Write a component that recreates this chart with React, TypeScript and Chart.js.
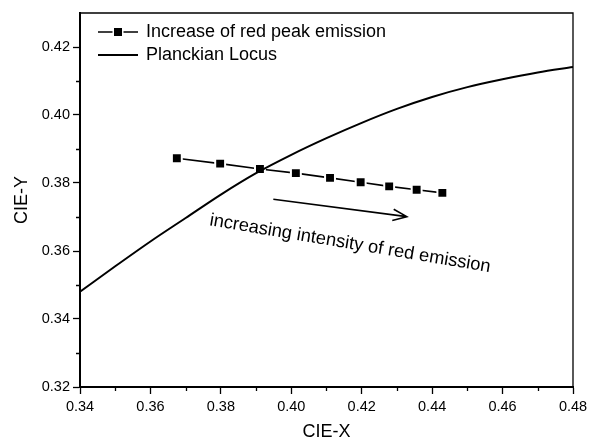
import React, { useEffect, useRef } from "react";
import { Chart, registerables } from "chart.js";

Chart.register(...registerables);

const FONT = "'Liberation Sans', Arial, Helvetica, sans-serif";

// Series: increase of red peak emission (CIE x / y)
const RED_X = [0.3675, 0.3798, 0.3911, 0.4013, 0.411, 0.4197, 0.4278, 0.4356, 0.4429];
const RED_Y = [0.3873, 0.3857, 0.3841, 0.3829, 0.3815, 0.3802, 0.379, 0.378, 0.3771];

// Planckian locus
const LOCUS_X = [0.34, 0.35, 0.36, 0.37, 0.38, 0.39, 0.4, 0.41, 0.42, 0.43, 0.44, 0.45, 0.46, 0.47, 0.48];
const LOCUS_Y = [0.348, 0.3555, 0.3628, 0.3697, 0.3766, 0.3829, 0.3883, 0.3932, 0.3977, 0.4018, 0.4053, 0.4082, 0.4105, 0.4125, 0.4141];

// Axis ticks
const X_TICKS = [0.34, 0.36, 0.38, 0.4, 0.42, 0.44, 0.46, 0.48];
const X_MINOR = [0.35, 0.37, 0.39, 0.41, 0.43, 0.45, 0.47];
const Y_TICKS = [0.32, 0.34, 0.36, 0.38, 0.4, 0.42];
const Y_MINOR = [0.33, 0.35, 0.37, 0.39, 0.41];

const SERIES_LABELS = ["Increase of red peak emission", "Planckian Locus"];
const X_TITLE = "CIE-X";
const Y_TITLE = "CIE-Y";

// Annotation (data coordinates)
const ANNOTATION_TEXT = "increasing intensity of red emission";
const ARROW_FROM = [0.3949, 0.3752];
const ARROW_TO = [0.4328, 0.3701];
const TEXT_AT = [0.3766, 0.3676];
const TEXT_ANGLE_DEG = 9.5;

const decorPlugin = {
  id: "decor",
  afterDraw(chart: any) {
    const { ctx, chartArea: ca, scales } = chart;
    const x = scales.x;
    const y = scales.y;
    ctx.save();
    ctx.strokeStyle = "#000";
    ctx.fillStyle = "#000";

    // top & right frame
    ctx.lineWidth = 1.3;
    ctx.beginPath();
    ctx.moveTo(ca.left, ca.top);
    ctx.lineTo(ca.right, ca.top);
    ctx.lineTo(ca.right, ca.bottom);
    ctx.stroke();

    // minor ticks
    ctx.lineWidth = 1.3;
    ctx.beginPath();
    X_MINOR.forEach((v) => {
      const px = Math.round(x.getPixelForValue(v)) + 0.5;
      ctx.moveTo(px, ca.bottom);
      ctx.lineTo(px, ca.bottom + 4);
    });
    Y_MINOR.forEach((v) => {
      const py = Math.round(y.getPixelForValue(v)) + 0.5;
      ctx.moveTo(ca.left, py);
      ctx.lineTo(ca.left - 4, py);
    });
    ctx.stroke();

    // legend
    const lx0 = ca.left + 18;
    const lx1 = ca.left + 58;
    const rows = [ca.top + 19, ca.top + 42];
    ctx.font = `18px ${FONT}`;
    ctx.textBaseline = "middle";
    ctx.textAlign = "left";
    // row 1
    ctx.lineWidth = 1.6;
    ctx.beginPath();
    ctx.moveTo(lx0, rows[0]);
    ctx.lineTo(lx1, rows[0]);
    ctx.stroke();
    const mx = (lx0 + lx1) / 2;
    ctx.fillStyle = "#fff";
    ctx.fillRect(mx - 5.5, rows[0] - 5.5, 11, 11);
    ctx.fillStyle = "#000";
    ctx.fillRect(mx - 4, rows[0] - 4, 8, 8);
    ctx.fillText(SERIES_LABELS[0], lx1 + 8, rows[0]);
    // row 2
    ctx.lineWidth = 2;
    ctx.beginPath();
    ctx.moveTo(lx0, rows[1]);
    ctx.lineTo(lx1, rows[1]);
    ctx.stroke();
    ctx.fillText(SERIES_LABELS[1], lx1 + 8, rows[1]);

    // arrow
    const ax0 = x.getPixelForValue(ARROW_FROM[0]);
    const ay0 = y.getPixelForValue(ARROW_FROM[1]);
    const ax1 = x.getPixelForValue(ARROW_TO[0]);
    const ay1 = y.getPixelForValue(ARROW_TO[1]);
    ctx.lineWidth = 1.6;
    ctx.beginPath();
    ctx.moveTo(ax0, ay0);
    ctx.lineTo(ax1, ay1);
    const ang = Math.atan2(ay1 - ay0, ax1 - ax0);
    const head = 15;
    const spread = (22 * Math.PI) / 180;
    ctx.moveTo(ax1 - head * Math.cos(ang - spread), ay1 - head * Math.sin(ang - spread));
    ctx.lineTo(ax1, ay1);
    ctx.lineTo(ax1 - head * Math.cos(ang + spread), ay1 - head * Math.sin(ang + spread));
    ctx.stroke();

    // rotated annotation text
    const tx = x.getPixelForValue(TEXT_AT[0]);
    const ty = y.getPixelForValue(TEXT_AT[1]);
    ctx.translate(tx, ty);
    ctx.rotate((TEXT_ANGLE_DEG * Math.PI) / 180);
    ctx.textBaseline = "alphabetic";
    ctx.font = `18.3px ${FONT}`;
    ctx.fillText(ANNOTATION_TEXT, 0, 0);

    ctx.restore();
  },
};

export default function App() {
  const ref = useRef<HTMLCanvasElement | null>(null);

  useEffect(() => {
    if (!ref.current) return;
    Chart.defaults.font.family = FONT;
    Chart.defaults.color = "#000";
    const chart = new Chart(ref.current, {
      type: "scatter",
      data: {
        datasets: [
          {
            label: SERIES_LABELS[1],
            data: LOCUS_X.map((v, i) => ({ x: v, y: LOCUS_Y[i] })),
            showLine: true,
            borderColor: "#000",
            borderWidth: 2,
            pointRadius: 0,
            cubicInterpolationMode: "monotone",
            fill: false,
          },
          {
            label: SERIES_LABELS[0],
            data: RED_X.map((v, i) => ({ x: v, y: RED_Y[i] })),
            showLine: true,
            borderColor: "#000",
            borderWidth: 1.6,
            pointStyle: "rect",
            pointRadius: 7,
            pointBackgroundColor: "#000",
            pointBorderColor: "#fff",
            pointBorderWidth: 2,
            fill: false,
          },
        ],
      },
      options: {
        animation: false,
        responsive: true,
        maintainAspectRatio: false,
        layout: { padding: { left: 0, right: 16, top: 13, bottom: 0 } },
        plugins: {
          legend: { display: false },
          tooltip: { enabled: false },
        },
        scales: {
          x: {
            type: "linear",
            min: 0.34,
            max: 0.48,
            afterBuildTicks: (s: any) => {
              s.ticks = X_TICKS.map((v) => ({ value: v }));
            },
            afterFit: (s: any) => {
              s.height = 56;
              s.paddingLeft = 0;
              s.paddingRight = 0;
            },
            ticks: {
              font: { size: 14.5 },
              color: "#000",
              padding: 4,
              maxRotation: 0,
              autoSkip: false,
              callback: (v: any) => Number(v).toFixed(2),
            },
            grid: {
              drawOnChartArea: false,
              drawTicks: true,
              tickLength: 7,
              tickWidth: 1.3,
              tickColor: "#000",
            },
            border: { display: true, color: "#000", width: 2 },
            title: {
              display: true,
              text: X_TITLE,
              font: { size: 18 },
              color: "#000",
              padding: { top: 0, bottom: 0 },
            },
          },
          y: {
            type: "linear",
            min: 0.32,
            max: 0.43,
            afterBuildTicks: (s: any) => {
              s.ticks = Y_TICKS.map((v) => ({ value: v }));
            },
            afterFit: (s: any) => {
              s.width = 80;
              s.paddingTop = 0;
              s.paddingBottom = 0;
            },
            ticks: {
              font: { size: 14.5 },
              color: "#000",
              padding: 3,
              autoSkip: false,
              callback: (v: any) => Number(v).toFixed(2),
            },
            grid: {
              drawOnChartArea: false,
              drawTicks: true,
              tickLength: 7,
              tickWidth: 1.3,
              tickColor: "#000",
            },
            border: { display: true, color: "#000", width: 2 },
            title: {
              display: true,
              text: Y_TITLE,
              font: { size: 18 },
              color: "#000",
              padding: { top: 11, bottom: 0 },
            },
          },
        },
      },
      plugins: [decorPlugin],
    } as any);
    return () => chart.destroy();
  }, []);

  return (
    <div style={{ position: "fixed", left: 0, top: 0, width: 589, height: 443, background: "#fff" }}>
      <canvas ref={ref} />
    </div>
  );
}
